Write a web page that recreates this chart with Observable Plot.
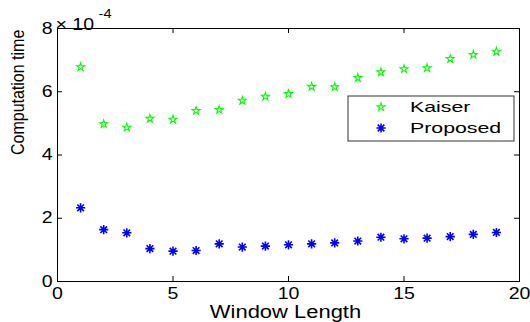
<!DOCTYPE html>
<html><head><meta charset="utf-8">
<script src="https://cdn.jsdelivr.net/npm/d3@7"></script>
<script src="https://cdn.jsdelivr.net/npm/@observablehq/plot@0.6"></script>
<style>
body{margin:0;background:#fff;}
#chart{position:relative;width:530px;height:322px;}
svg{font-family:"Liberation Sans",Arial,sans-serif;}
</style>
</head><body><div id="chart"></div>
<script>
const windowLength = [1,2,3,4,5,6,7,8,9,10,11,12,13,14,15,16,17,18,19];
const kaiser = [6.78,4.98,4.87,5.15,5.12,5.40,5.43,5.72,5.85,5.93,6.16,6.15,6.44,6.62,6.72,6.75,7.04,7.17,7.27];
const proposed = [2.33,1.64,1.54,1.04,0.96,0.98,1.19,1.09,1.12,1.16,1.19,1.22,1.28,1.40,1.35,1.37,1.42,1.49,1.55];
const xTicks = [0,5,10,15,20];
const yTicks = [0,2,4,6,8];
const seriesNames = ["Kaiser","Proposed"];
const xLabel = "Window Length";
const yLabel = "Computation time";
const expBase = "× 10";
const expPow = "-4";

const green = "#00ff00", blue = "#0000ff";
const asterisk = {draw(ctx, size){
  const r = Math.sqrt(size/Math.PI), q = r*0.72;
  ctx.moveTo(-r,0); ctx.lineTo(r,0);
  ctx.moveTo(0,-r); ctx.lineTo(0,r);
  ctx.moveTo(-q,-q); ctx.lineTo(q,q);
  ctx.moveTo(-q,q); ctx.lineTo(q,-q);
}};

const W = 530, H = 322, mL = 57, mR = 11, mT = 28, mB = 41;
const innerW = W - mL - mR, innerH = H - mT - mB, tick = 5;
const starR = 2.5, astR = 4.6;

const plot = Plot.plot({
  width: W, height: H,
  marginLeft: mL, marginRight: mR, marginTop: mT, marginBottom: mB,
  style: {fontFamily: '"Liberation Sans", Arial, sans-serif', fontSize: "16px", color: "#000", background: "#fff"},
  x: {domain: [0, 20]},
  y: {domain: [0, 8]},
  marks: [
    Plot.axisX({ticks: xTicks, tickSize: 0, tickPadding: 6, fontSize: 16, label: null, tickFormat: d => String(d)}),
    Plot.axisY({ticks: yTicks, tickSize: 0, tickPadding: 5, fontSize: 16, label: null, tickFormat: d => String(d)}),
    Plot.ruleX(xTicks, {x: d => d, insetTop: innerH - tick, stroke: "#000"}),
    Plot.ruleX(xTicks, {x: d => d, insetBottom: innerH - tick, stroke: "#000"}),
    Plot.ruleY(yTicks, {y: d => d, insetRight: innerW - tick, stroke: "#000"}),
    Plot.ruleY(yTicks, {y: d => d, insetLeft: innerW - tick, stroke: "#000"}),
    Plot.frame({stroke: "#000", strokeWidth: 1}),
    Plot.dot(windowLength, {x: d => d, y: (d, i) => kaiser[i], symbol: "star", r: starR, stroke: green, fill: "none", strokeWidth: 1.1}),
    Plot.dot(windowLength, {x: d => d, y: (d, i) => proposed[i], symbol: asterisk, r: astR, stroke: blue, fill: "none", strokeWidth: 1.6}),
    Plot.text([xLabel], {frameAnchor: "bottom", dy: 36, dx: -3, fontSize: 18, fill: "#000"}),
    Plot.text([yLabel], {frameAnchor: "left", rotate: -90, dx: -40, fontSize: 16, fill: "#000", className: "ylab"}),
    Plot.text([expBase], {frameAnchor: "top-left", textAnchor: "start", dx: -2, dy: -10, fontSize: 16, fill: "#000"}),
    Plot.text([expPow], {frameAnchor: "top-left", textAnchor: "start", dx: 41, dy: -19, fontSize: 12, fill: "#000"})
  ]
});
document.getElementById("chart").appendChild(plot);

function stretch(el, k) {
  const len = el.getComputedTextLength();
  el.setAttribute("textLength", len * k);
  el.setAttribute("lengthAdjust", "spacingAndGlyphs");
}
const svg = d3.select(plot);
svg.selectAll('g[aria-label="x-axis tick label"], g[aria-label="y-axis tick label"]').attr("font-size", 16);
svg.selectAll('g[aria-label="x-axis tick label"] text, g[aria-label="y-axis tick label"] text').attr("font-size", 16);
svg.selectAll("text").each(function() {
  const t = this.textContent;
  if (t === yLabel) {
    const tr = this.getAttribute("transform") || "";
    this.setAttribute("transform", tr + " scale(1,1.2)");
    return;
  }
  stretch(this, 1.22);
});

// legend
const lg = svg.append("g").attr("text-anchor", "start");
lg.append("rect").attr("x", 348).attr("y", 96).attr("width", 166).attr("height", 45)
  .attr("fill", "#fff").attr("stroke", "#333").attr("stroke-width", 1);
const rows = [
  {name: seriesNames[0], sym: d3.symbolStar, r: starR, color: green, sw: 1.1},
  {name: seriesNames[1], sym: asterisk, r: astR, color: blue, sw: 1.6}
];
rows.forEach((row, i) => {
  const y = 107 + i * 21;
  lg.append("path").attr("transform", `translate(381,${y})`)
    .attr("d", d3.symbol(row.sym, row.r * row.r * Math.PI)())
    .attr("fill", "none").attr("stroke", row.color).attr("stroke-width", row.sw);
  const t = lg.append("text").attr("x", 410).attr("y", y).attr("dy", "0.35em")
    .attr("text-anchor", "start")
    .attr("font-size", 15).attr("fill", "#000").text(row.name);
  stretch(t.node(), 1.42);
});
</script>
</body></html>
